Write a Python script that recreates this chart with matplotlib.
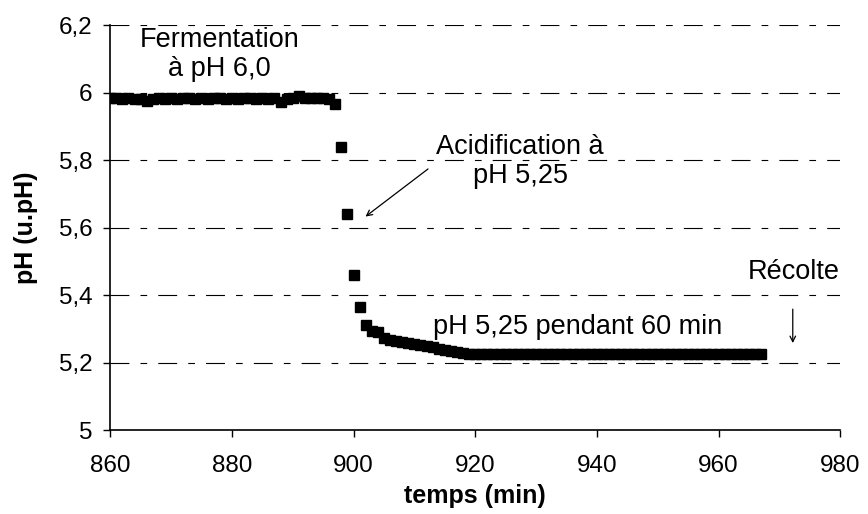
import matplotlib
matplotlib.use("Agg")
import matplotlib.pyplot as plt
from matplotlib.ticker import FuncFormatter

plt.rcParams['font.family'] = ['Liberation Sans', 'DejaVu Sans']

# fermentation at pH 6.0
t_ferm = list(range(860, 898))
ph_ferm = [5.983, 5.983, 5.982, 5.983, 5.982, 5.98, 5.976, 5.982, 5.983, 5.982,
           5.983, 5.982, 5.983, 5.983, 5.982, 5.983, 5.982, 5.983, 5.983, 5.982,
           5.983, 5.982, 5.983, 5.983, 5.982, 5.983, 5.982, 5.983, 5.972, 5.98,
           5.983, 5.99, 5.985, 5.984, 5.985, 5.983, 5.981, 5.966]

# acidification then hold at 5.25
t_acid = list(range(898, 968))
ph_acid = [5.84, 5.64, 5.46, 5.365, 5.312, 5.295, 5.29, 5.272, 5.268, 5.265,
           5.262, 5.258, 5.255, 5.252, 5.25, 5.246, 5.242, 5.238, 5.235, 5.232,
           5.229, 5.227, 5.226] + [5.226] * 47

fig = plt.figure(figsize=(8.68, 5.14), dpi=100)
ax = fig.add_axes([0.127, 0.163, 0.841, 0.788])

ax.plot(t_ferm + t_acid, ph_ferm + ph_acid, linestyle='none', marker='s',
        markersize=7.5, color='black', zorder=3)

ax.set_xlim(860, 980)
ax.set_ylim(5, 6.2)
ax.set_xticks(range(860, 981, 20))
ax.set_yticks([5, 5.2, 5.4, 5.6, 5.8, 6, 6.2])
ax.yaxis.set_major_formatter(FuncFormatter(lambda v, p: f"{v:g}".replace('.', ',')))
ax.tick_params(labelsize=17.5, direction='out', length=5, width=1)
ax.tick_params(axis='x', pad=13)
ax.tick_params(axis='y', pad=8)
ax.grid(axis='y', color='black', linewidth=0.8, dashes=(17, 10, 6, 10))
ax.set_axisbelow(True)
for s in ['top', 'right']:
    ax.spines[s].set_visible(False)
ax.spines['left'].set_linewidth(1.2)
ax.spines['bottom'].set_linewidth(1.2)

ax.set_xlabel('temps (min)', fontsize=18, fontweight='bold', labelpad=5)
ax.set_ylabel('pH (u.pH)', fontsize=18, fontweight='bold', labelpad=15)

ax.text(878, 6.114, 'Fermentation\nà pH 6,0', fontsize=19.5, ha='center',
        va='center', linespacing=1.15)
ax.text(927.4, 5.797, 'Acidification à\npH 5,25', fontsize=19.5, ha='center',
        va='center', linespacing=1.15)
ax.annotate('', xy=(901.6, 5.628), xytext=(912.6, 5.779),
            arrowprops=dict(arrowstyle='->', color='black', lw=0.9))
ax.text(936.8, 5.305, 'pH 5,25 pendant 60 min', fontsize=19.5, ha='center', va='center')
ax.text(972.3, 5.468, 'Récolte', fontsize=19.5, ha='center', va='center')
ax.annotate('', xy=(972.2, 5.25), xytext=(972.2, 5.367),
            arrowprops=dict(arrowstyle='->', color='black', lw=0.9))

fig.savefig('out.png', dpi=100)
